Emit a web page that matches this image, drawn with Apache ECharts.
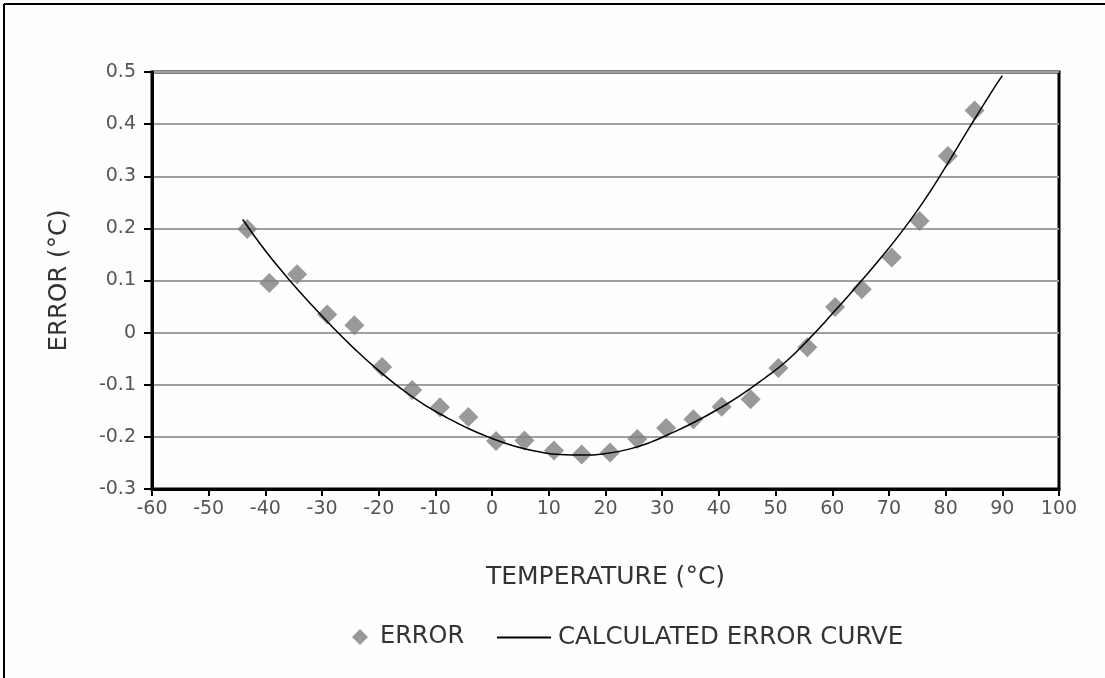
<!DOCTYPE html>
<html>
<head>
<meta charset="utf-8">
<script src="https://cdn.jsdelivr.net/npm/echarts@6/dist/echarts.min.js"></script>
<style>
html,body{margin:0;padding:0;background:#fdfefd;}
#chart{width:1105px;height:678px;}
</style>
</head>
<body>
<div id="chart"></div>
<script>
// Measured error points: temperature (°C) and error (°C)
var errorTemps = [-43.2, -39.3, -34.4, -29.1, -24.3, -19.4, -14.1, -9.2, -4.2, 0.7, 5.7, 10.9, 15.8, 20.8, 25.6, 30.7, 35.5, 40.5, 45.6, 50.5, 55.6, 60.5, 65.2, 70.5, 75.4, 80.4, 85.1];
var errorValues = [0.199, 0.095, 0.112, 0.035, 0.014, -0.066, -0.110, -0.143, -0.162, -0.208, -0.207, -0.226, -0.234, -0.230, -0.204, -0.183, -0.166, -0.142, -0.128, -0.068, -0.028, 0.049, 0.083, 0.144, 0.214, 0.339, 0.426];

// Calculated error curve
var curveTemps = [-44, -40, -36, -32, -28, -24, -20, -16, -12, -8, -4, 0, 4, 8, 12, 16, 20, 24, 28, 32, 36, 40, 44, 48, 52, 56, 60, 64, 68, 72, 76, 80, 84, 88, 90];
var curveValues = [0.217, 0.157, 0.104, 0.055, 0.009, -0.034, -0.073, -0.108, -0.138, -0.163, -0.185, -0.203, -0.218, -0.228, -0.234, -0.235, -0.232, -0.224, -0.210, -0.191, -0.170, -0.146, -0.119, -0.088, -0.054, -0.011, 0.036, 0.085, 0.136, 0.190, 0.250, 0.318, 0.390, 0.460, 0.493];

var xTicks = {min: -60, max: 100, step: 10};
var yTicks = {min: -0.3, max: 0.5, step: 0.1};

var scatterData = errorTemps.map(function (t, i) { return [t, errorValues[i]]; });
var curveData = curveTemps.map(function (t, i) { return [t, curveValues[i]]; });

var FONT = '"DejaVu Sans", sans-serif';
var chart = echarts.init(document.getElementById('chart'));
chart.setOption({
  backgroundColor: '#fdfefd',
  animation: false,
  graphic: [
    {type: 'line', shape: {x1: 4, y1: 4, x2: 1105, y2: 4}, style: {stroke: '#000', lineWidth: 2}},
    {type: 'line', shape: {x1: 4, y1: 4, x2: 4, y2: 678}, style: {stroke: '#000', lineWidth: 2}}
  ],
  grid: {left: 152, right: 46, top: 72, bottom: 189, show: true, borderColor: '#000', borderWidth: 3, backgroundColor: 'transparent'},
  legend: [
    {data: [{name: 'ERROR', icon: 'diamond'}], left: 347, top: 620, itemWidth: 16, itemHeight: 16,
     textStyle: {fontFamily: FONT, fontSize: 24, color: '#333', padding: [0, 0, 0, 7]}},
    {data: [{name: 'CALCULATED ERROR CURVE', icon: 'rect'}], left: 492, top: 620, itemWidth: 54, itemHeight: 2,
     textStyle: {fontFamily: FONT, fontSize: 24.5, color: '#333', padding: [0, 0, 0, 2]}}
  ],
  xAxis: {
    type: 'value', min: xTicks.min, max: xTicks.max, interval: xTicks.step,
    name: 'TEMPERATURE (°C)', nameLocation: 'middle', nameGap: 76,
    nameTextStyle: {fontFamily: FONT, fontSize: 25, color: '#333'},
    axisLine: {show: true, onZero: false, lineStyle: {color: '#000', width: 3}},
    axisTick: {show: true, length: 7, lineStyle: {color: '#000', width: 2}},
    axisLabel: {fontFamily: FONT, fontSize: 19, color: '#555', margin: 11},
    splitLine: {show: false}
  },
  yAxis: {
    type: 'value', min: yTicks.min, max: yTicks.max, interval: yTicks.step,
    name: 'ERROR (°C)', nameLocation: 'middle', nameGap: 80, nameRotate: 90,
    nameTextStyle: {fontFamily: FONT, fontSize: 24.5, color: '#333'},
    axisLine: {show: true, onZero: false, lineStyle: {color: '#000', width: 3}},
    axisTick: {show: true, length: 8, lineStyle: {color: '#000', width: 2}},
    axisLabel: {fontFamily: FONT, fontSize: 19, color: '#555', margin: 16,
      formatter: function (v) { return Math.abs(v) < 1e-9 ? '0' : (Math.round(v * 10) / 10).toString(); }},
    splitLine: {show: true, lineStyle: {color: '#a0a0a0', width: 2}}
  },
  series: [
    {name: 'ERROR', type: 'scatter', data: scatterData, symbol: 'diamond', symbolSize: [20, 20],
     itemStyle: {color: '#7f7f7f'}, z: 3},
    {name: 'CALCULATED ERROR CURVE', type: 'line', data: curveData, smooth: true, symbol: 'none',
     lineStyle: {color: '#000', width: 1.5}, itemStyle: {color: '#000'}, z: 4}
  ]
});
</script>
</body>
</html>
